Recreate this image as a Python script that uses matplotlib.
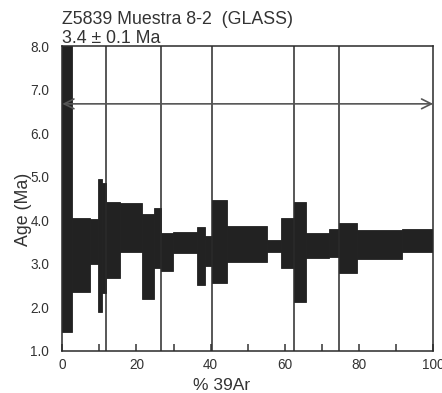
import matplotlib
matplotlib.use("Agg")
import matplotlib.pyplot as plt
import numpy as np

plt.rcParams['font.family'] = ['Liberation Sans', 'DejaVu Sans']

# Cumulative % 39Ar step edges
step_edges = [0, 2.5, 7.5, 9.7, 10.8, 11.8, 15.5, 21.4, 24.6, 26.6, 29.9, 36.3,
              38.4, 40.3, 44.3, 55.3, 58.9, 62.5, 65.6, 72.0, 74.6, 79.5, 91.5, 100]
# Age error box lower / upper bounds (Ma)
age_low = [1.44, 2.35, 2.99, 1.90, 2.32, 2.67, 3.27, 2.18, 2.91, 2.84, 3.24, 2.51,
           2.94, 2.55, 3.03, 3.28, 2.90, 2.12, 3.13, 3.15, 2.78, 3.11, 3.28]
age_high = [8.0, 4.06, 4.04, 4.94, 4.87, 4.42, 4.40, 4.14, 4.29, 3.72, 3.74, 3.84,
            3.65, 4.46, 3.87, 3.55, 4.05, 4.43, 3.70, 3.80, 3.95, 3.78, 3.80]
# Vertical separator lines (% 39Ar)
separators = [11.8, 26.6, 40.3, 62.5, 74.6]
plateau_age_line = 6.68

title1 = "Z5839 Muestra 8-2  (GLASS)"
title2 = "3.4 \u00b1 0.1 Ma"

fig = plt.figure(figsize=(4.42, 3.93), dpi=100)
ax = fig.add_axes([0.141, 0.1076, 0.839, 0.7741])

edges = np.array(step_edges)
lo = np.array(age_low)
hi = np.array(age_high)
ax.bar(edges[:-1], hi - lo, width=np.diff(edges), bottom=lo, align='edge',
       color='#222222', edgecolor='#222222', linewidth=0.6)

for s in separators:
    ax.axvline(s, color='#2a2a2a', lw=1.1)

ax.annotate('', xy=(100, plateau_age_line), xytext=(0, plateau_age_line),
            arrowprops=dict(arrowstyle='<->,head_length=0.7,head_width=0.35',
                            color='#555555', lw=1.2, shrinkA=0, shrinkB=0))

ax.set_xlim(0, 100)
ax.set_ylim(1.0, 8.0)
ax.set_xticks([0, 20, 40, 60, 80, 100])
ax.set_xticks([10, 30, 50, 70, 90], minor=True)
ax.set_yticks(np.arange(1, 8.01, 1.0))
ax.set_yticklabels([f"{v:.1f}" for v in np.arange(1, 8.01, 1.0)])
ax.tick_params(axis='x', which='both', direction='in', length=4.7, width=1.1,
               color='#333333', labelsize=9.8, labelcolor='#333333', pad=5.5)
ax.tick_params(axis='y', length=0, labelsize=9.8, labelcolor='#333333', pad=9.5)
for sp in ax.spines.values():
    sp.set_color('#2a2a2a')
    sp.set_linewidth(1.1)

fig.text(222 / 442, 1 - 390 / 393, '% 39Ar', fontsize=12.5, color='#333333',
         ha='center', va='baseline')
fig.text(23 / 442, 1 - 209 / 393, 'Age (Ma)', fontsize=12.8, color='#333333',
         ha='center', va='center', rotation=90)

fig.text(62 / 442, 1 - 24 / 393, title1, fontsize=12.8, color='#333333',
         ha='left', va='baseline')
fig.text(62 / 442, 1 - 43 / 393, title2, fontsize=12.8, color='#333333',
         ha='left', va='baseline')

fig.savefig('out.png', dpi=100)
